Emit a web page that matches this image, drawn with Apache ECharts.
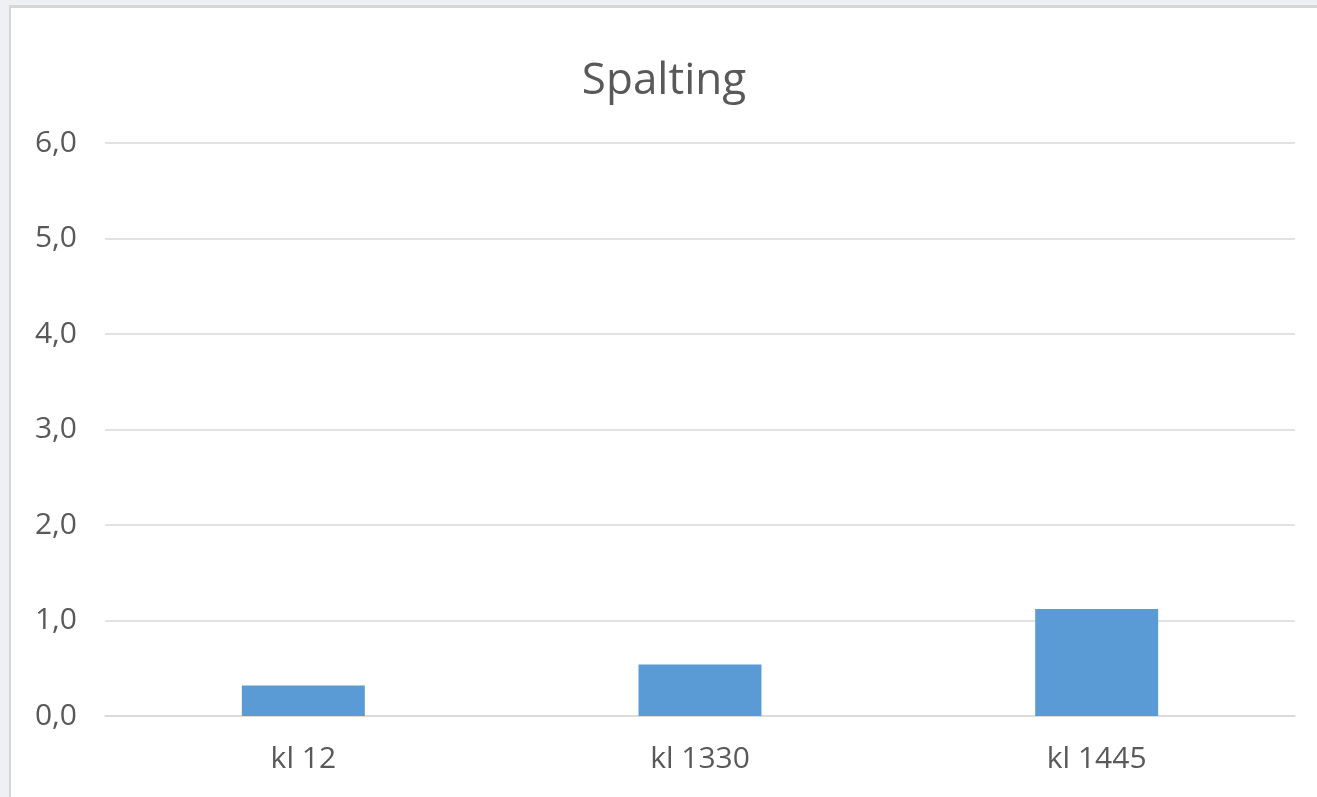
<!DOCTYPE html>
<html><head><meta charset="utf-8">
<script src="https://cdn.jsdelivr.net/npm/echarts@6/dist/echarts.min.js"></script>
<style>
html,body{margin:0;padding:0;width:1317px;height:797px;overflow:hidden;background:#eef0f3;}
#c{position:absolute;left:9px;top:5px;width:1306px;height:789px;border-left:2px solid #d6d6d6;border-top:3px solid #d6d6d6;background:#fff;}
</style></head>
<body><div id="c"></div>
<script>
const categories = ['kl 12', 'kl 1330', 'kl 1445'];
const values = [0.32, 0.54, 1.12];
const titleText = 'Spalting';

const chart = echarts.init(document.getElementById('c'));
chart.setOption({
  animation: false,
  backgroundColor: '#ffffff',
  title: {
    text: titleText, left: 'center', top: 46,
    textStyle: { fontFamily: 'Open Sans', fontSize: 44, fontWeight: 'normal', color: '#595959' }
  },
  grid: { left: 94, right: 22, top: 135, bottom: 81 },
  xAxis: {
    type: 'category', data: categories,
    axisLine: { lineStyle: { color: '#d9d9d9', width: 1.5 } },
    axisTick: { show: false },
    axisLabel: { margin: 28, fontFamily: 'Open Sans', fontSize: 30, color: '#595959' }
  },
  yAxis: {
    type: 'value', min: 0, max: 6, interval: 1,
    axisLine: { show: false }, axisTick: { show: false },
    splitLine: { lineStyle: { color: '#d9d9d9', width: 1.5 } },
    axisLabel: { margin: 28, fontFamily: 'Open Sans', fontSize: 30, color: '#595959',
      formatter: v => v.toFixed(1).replace('.', ',') }
  },
  series: [{
    type: 'bar', data: values, barWidth: '31%',
    itemStyle: { color: '#5b9bd5' }
  }]
});
</script></body></html>
